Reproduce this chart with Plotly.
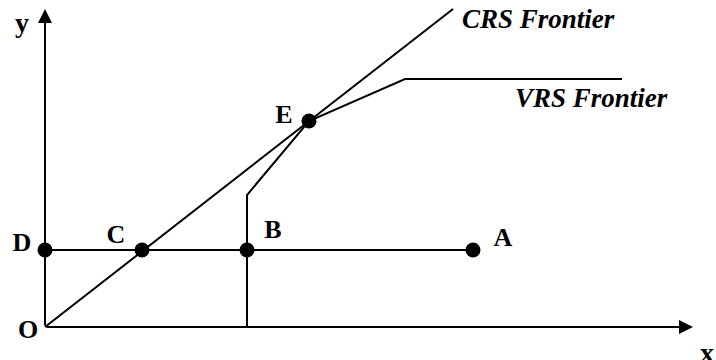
import plotly.graph_objects as go

# Diagram values (arbitrary units, origin O at (0,0))
crs_x = [0.0, 4.08]
crs_y = [0.0, 3.18]
vrs_x = [2.02, 2.02, 2.64, 3.60, 5.77]
vrs_y = [0.0, 1.32, 2.06, 2.48, 2.48]
da_x = [0.0, 4.28]
da_y = [0.77, 0.77]
pt_names = ["D", "C", "B", "A", "E"]
pt_x = [0.0, 0.97, 2.02, 4.28, 2.64]
pt_y = [0.77, 0.77, 0.77, 0.77, 2.06]
lbl_x = [-0.23, 0.71, 2.28, 4.58, 2.39, -0.17]
lbl_y = [0.83, 0.91, 0.96, 0.88, 2.11, -0.04]
lbl_t = ["D", "C", "B", "A", "E", "O"]
axis_end_x = 6.48
axis_end_y = 3.18

FONT = "Liberation Serif"
fig = go.Figure()
line_style = dict(color="black", width=2)
fig.add_trace(go.Scatter(x=crs_x, y=crs_y, mode="lines", line=line_style, hoverinfo="skip"))
fig.add_trace(go.Scatter(x=vrs_x, y=vrs_y, mode="lines", line=line_style, hoverinfo="skip"))
fig.add_trace(go.Scatter(x=da_x, y=da_y, mode="lines", line=line_style, hoverinfo="skip"))
fig.add_trace(go.Scatter(x=pt_x, y=pt_y, mode="markers", marker=dict(color="black", size=15),
                         text=pt_names, hoverinfo="text"))
fig.add_trace(go.Scatter(x=lbl_x, y=lbl_y, mode="text", text=[f"<b>{t}</b>" for t in lbl_t],
                         textfont=dict(family=FONT, size=26, color="black"), hoverinfo="skip"))

# axes arrows
fig.add_annotation(x=axis_end_x, y=0, ax=0, ay=0, xref="x", yref="y", axref="x", ayref="y",
                   showarrow=True, arrowhead=2, arrowsize=1.4, arrowwidth=2, arrowcolor="black", text="")
fig.add_annotation(x=0, y=axis_end_y, ax=0, ay=0, xref="x", yref="y", axref="x", ayref="y",
                   showarrow=True, arrowhead=2, arrowsize=1.4, arrowwidth=2, arrowcolor="black", text="")

fig.add_annotation(x=-0.23, y=3.05, text="<b>y</b>", showarrow=False,
                   font=dict(family=FONT, size=28, color="black"))
fig.add_annotation(x=6.62, y=-0.25, text="<b>x</b>", showarrow=False,
                   font=dict(family=FONT, size=28, color="black"))
fig.add_annotation(x=4.15, y=3.08, text="<b><i>CRS Frontier</i></b>", showarrow=False, xanchor="left",
                   font=dict(family=FONT, size=27, color="black"))
fig.add_annotation(x=4.68, y=2.29, text="<b><i>VRS Frontier</i></b>", showarrow=False, xanchor="left",
                   font=dict(family=FONT, size=27, color="black"))

fig.update_layout(
    width=716, height=360, margin=dict(l=0, r=0, t=0, b=0),
    paper_bgcolor="white", plot_bgcolor="white", showlegend=False,
    xaxis=dict(range=[-0.45, 6.71], visible=False, fixedrange=True),
    yaxis=dict(range=[-0.33, 3.27], visible=False, fixedrange=True),
)
fig.write_html("out.html", config={"displayModeBar": False},
               post_script="document.body.style.margin='0';document.body.style.overflow='hidden';")
